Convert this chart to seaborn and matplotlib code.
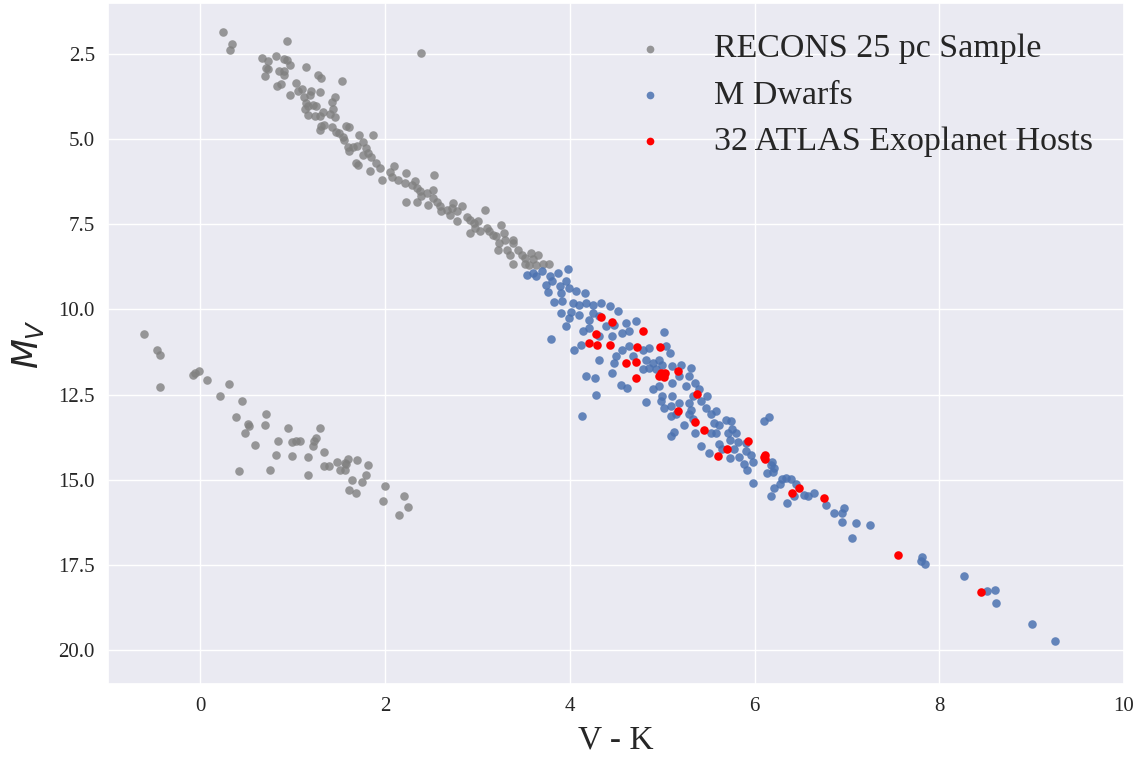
import matplotlib
matplotlib.use("Agg")
import matplotlib.pyplot as plt
import seaborn as sns

# RECONS 25 pc sample (V-K, Mv)
recons_vk = [
    0.25, 0.34, 0.32, 0.94, 2.39, 0.67, 0.73, 0.82, 0.90, 0.94, 0.97, 0.71, 0.73, 0.70,
    0.85, 0.91, 0.90, 1.14, 0.83, 0.87, 1.04, 0.97, 1.06, 1.10, 1.20, 1.29, 1.27, 1.31,
    1.53, 1.19, 1.12, 1.46, 1.42, 1.14, 1.16, 1.22, 1.25, 1.13, 1.17, 1.24, 1.29, 1.33,
    1.44, 1.46, 1.40, 1.31, 1.29, 1.34, 1.43, 1.47, 1.50, 1.54, 1.58, 1.61, 1.56, 1.60,
    1.61, 1.65, 1.70, 1.72, 1.76, 1.865, 1.79, 1.81, 1.76, 1.85, 1.90, 1.68, 1.71, 1.84,
    1.94, 1.97, 2.05, 2.10, 2.08, 2.14, 2.23, 2.22, 2.29, 2.32, 2.34, 2.38, 2.39, 2.45,
    2.52, 2.53, 2.23, 2.34, 2.46, 2.52, 2.56, 2.59, 2.61, 2.67, 2.72, 2.74, 2.78, 2.83,
    2.78, 2.70, 2.89, 2.92, 2.96, 3.01, 3.08, 2.97, 2.92, 3.03, 3.10, 3.13, 3.17, 3.20,
    3.26, 3.29, 3.30, 3.23, 3.22, 3.32, 3.38, 3.39, 3.35, 3.39, 3.44, 3.48, 3.51, 3.58,
    3.60, 3.66, 3.51, 3.56, 3.63, 3.71, 3.77,
    -0.61, -0.47, -0.44, -0.44, -0.08, -0.06, -0.02, 0.07, 0.31, 0.21, 0.45, 0.39, 0.52,
    0.53, 0.48, 0.42, 0.59, 0.71, 0.70, 0.82, 0.84, 0.75, 0.95, 0.99, 1.04, 1.08, 0.99,
    1.16, 1.17, 1.22, 1.23, 1.25, 1.30, 1.34, 1.34, 1.39, 1.48, 1.51, 1.57, 1.60, 1.58,
    1.57, 1.70, 1.82, 1.79, 1.64, 1.75, 1.61, 1.69, 2.00, 1.98, 2.20, 2.25, 2.15,
]
recons_mv = [
    1.85, 2.20, 2.38, 2.12, 2.47, 2.62, 2.70, 2.55, 2.63, 2.68, 2.81, 2.90, 2.95, 3.14,
    2.99, 3.00, 3.10, 2.87, 3.44, 3.39, 3.36, 3.69, 3.57, 3.52, 3.57, 3.60, 3.12, 3.20,
    3.30, 3.70, 3.77, 3.75, 3.90, 3.93, 4.03, 4.00, 4.03, 4.12, 4.30, 4.32, 4.32, 4.20,
    4.12, 4.36, 4.27, 4.61, 4.73, 4.58, 4.63, 4.78, 4.83, 4.92, 4.61, 4.63, 5.02, 5.22,
    5.36, 5.22, 5.20, 4.87, 5.07, 4.87, 5.27, 5.41, 5.46, 5.51, 5.71, 5.69, 5.77, 5.92,
    5.85, 6.19, 5.95, 5.80, 6.10, 6.20, 6.00, 6.29, 6.34, 6.24, 6.44, 6.53, 6.68, 6.58,
    6.48, 6.04, 6.85, 6.83, 6.92, 6.73, 6.83, 6.97, 7.12, 7.07, 7.02, 6.87, 7.12, 6.97,
    7.41, 7.22, 7.27, 7.36, 7.46, 7.41, 7.09, 7.61, 7.75, 7.70, 7.61, 7.70, 7.80, 7.85,
    7.53, 7.75, 7.95, 8.04, 8.24, 8.24, 8.04, 7.95, 8.39, 8.65, 8.24, 8.39, 8.48, 8.34,
    8.53, 8.39, 8.65, 8.68, 8.68, 8.65, 8.65,
    10.71, 11.18, 11.33, 12.27, 11.91, 11.88, 11.81, 12.06, 12.19, 12.54, 12.69, 13.15, 13.35,
    13.43, 13.63, 14.75, 13.98, 13.07, 13.40, 14.27, 13.87, 14.70, 13.48, 13.88, 13.86, 13.85, 14.29,
    14.34, 14.85, 14.01, 13.87, 13.77, 13.48, 14.19, 14.60, 14.60, 14.47, 14.71, 14.70, 14.38, 14.55,
    14.50, 14.42, 14.58, 14.85, 15.01, 15.06, 15.31, 15.40, 15.18, 15.62, 15.48, 15.79, 16.03,
]

# M dwarfs
mdwarf_vk = [
    3.54, 3.60, 3.63, 3.70, 3.78, 3.87, 3.98, 3.74, 3.81, 3.89, 3.96, 3.99, 3.76, 3.90,
    4.07, 4.16, 3.83, 3.92, 4.03, 4.10, 4.17, 4.25, 4.34, 4.43, 4.52, 3.90, 3.99, 4.01,
    4.10, 4.21, 4.25, 4.32, 4.39, 4.48, 4.61, 4.72, 3.96, 4.14, 4.21, 4.32, 4.46, 4.57,
    4.64, 3.80, 4.04, 4.12, 4.32, 4.48, 4.50, 4.57, 4.64, 4.68, 4.79, 4.86, 5.02, 5.04,
    5.08, 4.82, 4.90, 4.97, 4.79, 4.86, 4.93, 5.00, 5.11, 5.20, 5.31, 4.17, 4.27, 4.46,
    4.55, 4.62, 4.28, 4.13, 4.90, 4.97, 5.00, 5.11, 5.18, 5.26, 5.29, 5.36, 5.40, 5.33,
    5.11, 5.49,
    4.82, 4.99, 5.02, 5.09, 5.18, 5.29, 5.31, 5.42, 5.09, 5.15, 5.24, 5.29, 5.33, 5.36,
    5.47, 5.53, 5.58, 5.62, 5.56, 5.53, 5.58, 5.69, 5.74, 5.71, 5.76, 5.80, 5.73, 5.62,
    5.65, 5.78, 5.82, 5.91, 5.91, 5.96, 5.83, 5.73, 5.51, 5.42, 5.09, 5.13, 5.89, 5.92,
    5.98, 5.98, 6.10, 6.16, 6.19, 6.21, 6.20, 6.13, 6.18, 6.30, 6.34, 6.39, 6.21, 6.18,
    6.27, 6.45, 6.43, 6.35, 6.54, 6.58, 6.64, 6.77, 6.86, 6.95, 6.97, 6.95, 7.10, 7.25,
    7.06, 7.81, 7.80, 7.85, 8.27, 8.52, 8.60, 8.61, 9.00, 9.25,
]
mdwarf_mv = [
    8.98, 8.93, 9.03, 8.88, 9.03, 8.93, 8.81, 9.27, 9.17, 9.32, 9.17, 9.37, 9.50, 9.52,
    9.47, 9.52, 9.79, 9.76, 9.81, 9.86, 9.81, 9.86, 9.81, 9.89, 10.05, 10.10, 10.25, 10.08,
    10.15, 10.30, 10.10, 10.20, 10.49, 10.45, 10.40, 10.35, 10.49, 10.64, 10.54, 10.79, 10.79, 10.69,
    10.64, 10.87, 11.20, 11.03, 11.47, 11.57, 11.37, 11.18, 11.08, 11.37, 11.18, 11.13, 10.67, 11.08,
    11.28, 11.47, 11.57, 11.47, 11.76, 11.72, 11.76, 11.62, 11.67, 11.62, 11.72, 11.94, 12.01, 11.86,
    12.23, 12.30, 12.50, 13.13, 12.35, 12.25, 12.55, 12.16, 11.96, 12.25, 11.96, 12.16, 12.35, 12.55,
    12.55, 12.55,
    12.72, 12.69, 12.89, 12.84, 12.74, 12.74, 12.94, 12.69, 13.13, 13.08, 13.38, 13.08, 13.23, 13.62,
    12.89, 13.08, 12.99, 13.38, 13.33, 13.62, 13.62, 13.25, 13.28, 13.62, 13.52, 13.62, 13.82, 13.96,
    14.11, 14.11, 13.89, 13.92, 14.16, 14.26, 14.33, 14.36, 14.21, 14.01, 13.72, 13.59, 14.55, 14.70,
    14.48, 15.09, 13.28, 13.15, 14.48, 14.65, 14.77, 14.81, 14.58, 14.97, 14.94, 14.97, 15.23, 15.48,
    15.14, 15.14, 15.48, 15.69, 15.45, 15.48, 15.38, 15.73, 15.97, 15.97, 15.82, 16.24, 16.28, 16.34,
    16.70, 17.27, 17.38, 17.47, 17.84, 18.28, 18.24, 18.61, 19.23, 19.73,
]

# 32 ATLAS exoplanet hosts
atlas_vk = [
    4.34, 4.46, 4.79, 4.28, 4.21, 4.29, 4.44, 4.73, 4.98, 4.61, 4.72, 4.72, 4.99, 5.03,
    5.02, 5.17, 5.38, 5.17, 5.36, 5.45, 5.93, 5.70, 5.60, 6.11, 6.11, 6.40, 6.48, 6.75,
    7.55, 8.45, 4.97, 6.10,
]
atlas_mv = [
    10.22, 10.37, 10.64, 10.71, 10.98, 11.03, 11.03, 11.11, 11.09, 11.57, 11.55, 12.02, 11.88, 11.86,
    11.98, 11.81, 12.48, 12.97, 13.29, 13.54, 13.87, 14.09, 14.30, 14.26, 14.38, 15.40, 15.24, 15.55,
    17.21, 18.29, 11.95, 14.32,
]

sns.set_theme(style="darkgrid")
plt.rcParams['font.family'] = ['Liberation Serif', 'DejaVu Serif']

fig, ax = plt.subplots(figsize=(11.43, 7.57), dpi=100)
fig.subplots_adjust(left=0.0945, right=0.9834, top=0.996, bottom=0.0964)

sns.scatterplot(x=recons_vk, y=recons_mv, color='gray', alpha=0.8, s=38,
                linewidth=0, label='RECONS 25 pc Sample', ax=ax)
sns.scatterplot(x=mdwarf_vk, y=mdwarf_mv, color='#4c72b0', alpha=0.85, s=38,
                linewidth=0, label='M Dwarfs', ax=ax)
sns.scatterplot(x=atlas_vk, y=atlas_mv, color='red', s=38,
                linewidth=0, label='32 ATLAS Exoplanet Hosts', ax=ax)

ax.set_xlim(-1, 10)
ax.set_ylim(21, 1)
ax.set_xticks([0, 2, 4, 6, 8, 10])
ax.set_yticks([2.5, 5.0, 7.5, 10.0, 12.5, 15.0, 17.5, 20.0])
ax.tick_params(labelsize=15)
ax.set_xlabel('V - K', fontsize=24, labelpad=6)
ax.set_ylabel('$M_V$', fontsize=25, labelpad=9)

ax.legend(loc='upper right', frameon=False, fontsize=24.5, markerscale=0.9,
          handletextpad=0.9, labelspacing=0.45, borderaxespad=0.5)

fig.savefig('out.png', dpi=100)
